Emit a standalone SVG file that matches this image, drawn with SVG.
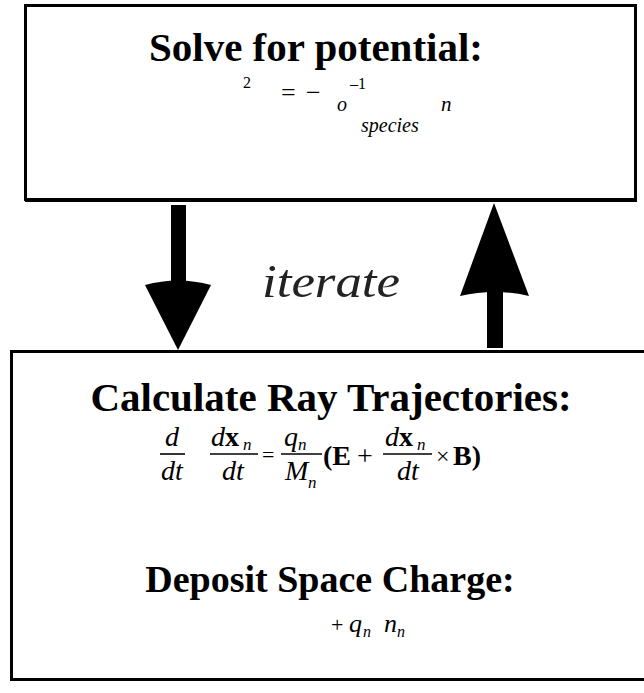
<svg xmlns="http://www.w3.org/2000/svg" width="644" height="693" viewBox="0 0 644 693">
<style>
.box{fill:#fff;stroke:#000;stroke-width:3}
.title{font-family:"Liberation Serif","Times New Roman",serif;font-weight:bold;fill:#000;text-anchor:middle}
.m{font-family:"Liberation Serif","Times New Roman",serif;fill:#000}
.i{font-style:italic}
.b{font-weight:bold}
.c{text-anchor:middle}
.bar{stroke:#000;stroke-width:1.6}
.arrow{fill:#000}
.lbl{font-family:"Liberation Serif","Times New Roman",serif;font-style:italic;font-size:46px;fill:#222}
</style>
<rect width="644" height="693" fill="#fff"/>
<g id="node-potential">
  <rect class="box" x="25.5" y="5.5" width="610" height="194"/>
  <line x1="25" y1="200" x2="637" y2="200" stroke="#000" stroke-width="4"/>
  <text class="title" x="316" y="61" font-size="41">Solve for potential:</text>
  <text class="m" x="243" y="88" font-size="16">2</text>
  <text class="m" x="281" y="101" font-size="26">=</text>
  <text class="m" x="306" y="101" font-size="26">−</text>
  <text class="m i" x="337" y="111" font-size="20">o</text>
  <text class="m" x="350" y="89" font-size="16">–1</text>
  <text class="m i" x="441" y="111" font-size="21">n</text>
  <text class="m i" x="361" y="132" font-size="20">species</text>
</g>
<g id="node-trajectories">
  <rect class="box" x="11.5" y="351.5" width="650" height="328"/>
  <text class="title" x="331" y="411" font-size="41">Calculate Ray Trajectories:</text>
  <text class="m i c" x="172" y="446" font-size="28">d</text>
  <line class="bar" x1="160" y1="454" x2="185" y2="454"/>
  <text class="m i c" x="172" y="480" font-size="28">dt</text>
  <text class="m" x="211" y="446" font-size="28"><tspan class="i">d</tspan><tspan class="b">x</tspan></text>
  <text class="m i" x="243" y="450" font-size="17">n</text>
  <line class="bar" x1="210" y1="454" x2="258" y2="454"/>
  <text class="m i c" x="233" y="480" font-size="28">dt</text>
  <text class="m" x="262" y="462" font-size="22">=</text>
  <text class="m i" x="284" y="446" font-size="28">q</text>
  <text class="m i" x="298" y="450" font-size="17">n</text>
  <line class="bar" x1="281" y1="454" x2="322" y2="454"/>
  <text class="m i" x="285" y="480" font-size="28">M</text>
  <text class="m i" x="308" y="488" font-size="17">n</text>
  <text class="m b" x="323" y="465" font-size="28">(E</text>
  <text class="m" x="357" y="465" font-size="28">+</text>
  <text class="m" x="385" y="446" font-size="28"><tspan class="i">d</tspan><tspan class="b">x</tspan></text>
  <text class="m i" x="417" y="450" font-size="17">n</text>
  <line class="bar" x1="383" y1="454" x2="432" y2="454"/>
  <text class="m i c" x="408" y="480" font-size="28">dt</text>
  <text class="m" x="436" y="464" font-size="24">×</text>
  <text class="m b" x="453" y="465" font-size="28">B)</text>
  <text class="title" x="330" y="592" font-size="38">Deposit Space Charge:</text>
  <text class="m" x="331" y="632" font-size="22">+</text>
  <text class="m i" x="349" y="632" font-size="26">q</text>
  <text class="m i" x="363" y="637" font-size="16">n</text>
  <text class="m i" x="384" y="632" font-size="26">n</text>
  <text class="m i" x="397" y="637" font-size="16">n</text>
</g>
<g id="connectors">
  <g id="arrow-down">
    <rect class="arrow" x="171" y="205" width="15" height="82"/>
    <path class="arrow" d="M145,285 Q178,276 211,285 L178,350 Z"/>
  </g>
  <g id="arrow-up">
    <path class="arrow" d="M494,203 L529,296 Q495,288 460,296 Z"/>
    <rect class="arrow" x="487" y="290" width="16" height="58"/>
  </g>
  <text class="lbl" x="262" y="297" textLength="138" lengthAdjust="spacingAndGlyphs">iterate</text>
</g>
</svg>
